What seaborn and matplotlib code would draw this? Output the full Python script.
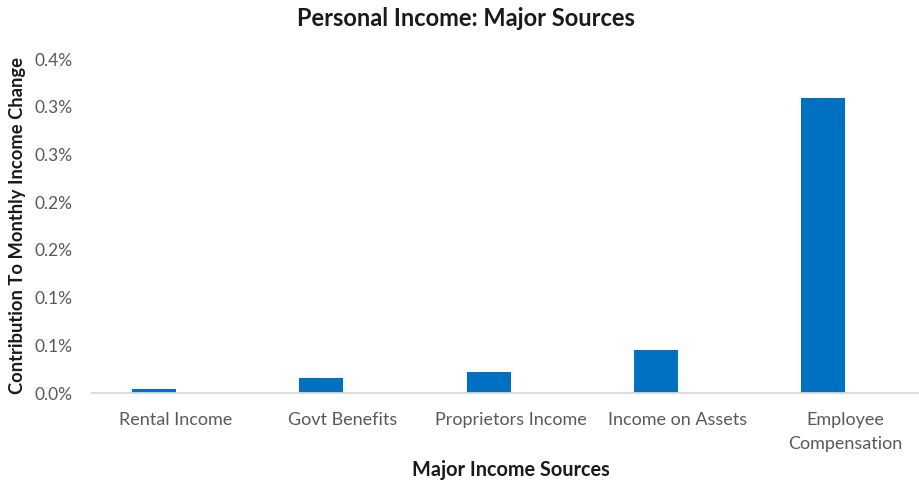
import matplotlib
matplotlib.use("Agg")
import matplotlib.pyplot as plt
import seaborn as sns
import pandas as pd

categories = ["Rental Income", "Govt Benefits", "Proprietors Income",
              "Income on Assets", "Employee\nCompensation"]
contribution = [0.0044, 0.0152, 0.0224, 0.0448, 0.3092]   # percent
empty_series = [0.0, 0.0, 0.0, 0.0, 0.0]                  # unused second series slot
y_ticks = [0.0, 0.05, 0.10, 0.15, 0.20, 0.25, 0.30, 0.35]
y_tick_labels = ["0.0%", "0.1%", "0.1%", "0.2%", "0.2%", "0.3%", "0.3%", "0.4%"]

df = pd.DataFrame({
    "Source": categories * 2,
    "Value": contribution + empty_series,
    "Series": ["Contribution"] * len(categories) + ["Empty"] * len(categories),
})

sns.set_theme(style="white")
plt.rcParams["font.family"] = ["Lato", "DejaVu Sans"]

fig = plt.figure(figsize=(9.2, 4.83), dpi=100)
ax = fig.add_axes([92 / 920, 90 / 483, (929 - 92) / 920, (424 - 90) / 483])

sns.barplot(data=df, x="Source", y="Value", hue="Series",
            hue_order=["Contribution", "Empty"],
            palette=["#0070C0", "#0070C0"], width=0.525, gap=0,
            linewidth=0, saturation=1, ax=ax, legend=False)

ax.set_xlim(-0.5, len(categories) - 0.5)
ax.set_ylim(0, 0.35)
ax.set_yticks(y_ticks)
ax.set_yticklabels(y_tick_labels)

for s in ["top", "right", "left"]:
    ax.spines[s].set_visible(False)
ax.spines["bottom"].set_color("#d9d9d9")
ax.spines["bottom"].set_linewidth(1.3)

ax.tick_params(axis="x", length=0, colors="#595959", labelsize=13, pad=14)
ax.tick_params(axis="y", length=0, colors="#595959", labelsize=12.5, pad=14)
for lbl in ax.get_xticklabels():
    lbl.set_linespacing(1.55)

ax.set_xlabel("Major Income Sources", fontsize=14.3, fontweight="bold",
              color="#1a1a1a")
ax.xaxis.set_label_coords(0.5, (393 - 470) / 334)
ax.xaxis.label.set_va("center")
ax.set_ylabel("Contribution To Monthly Income Change", fontsize=13.2,
              fontweight="bold", color="#1a1a1a", labelpad=6)

fig.text(466 / 920, 1 - 19 / 483, "Personal Income: Major Sources",
         ha="center", va="center", fontsize=17, fontweight="bold",
         color="#1a1a1a")

fig.savefig("out.png", dpi=100, facecolor="white")
